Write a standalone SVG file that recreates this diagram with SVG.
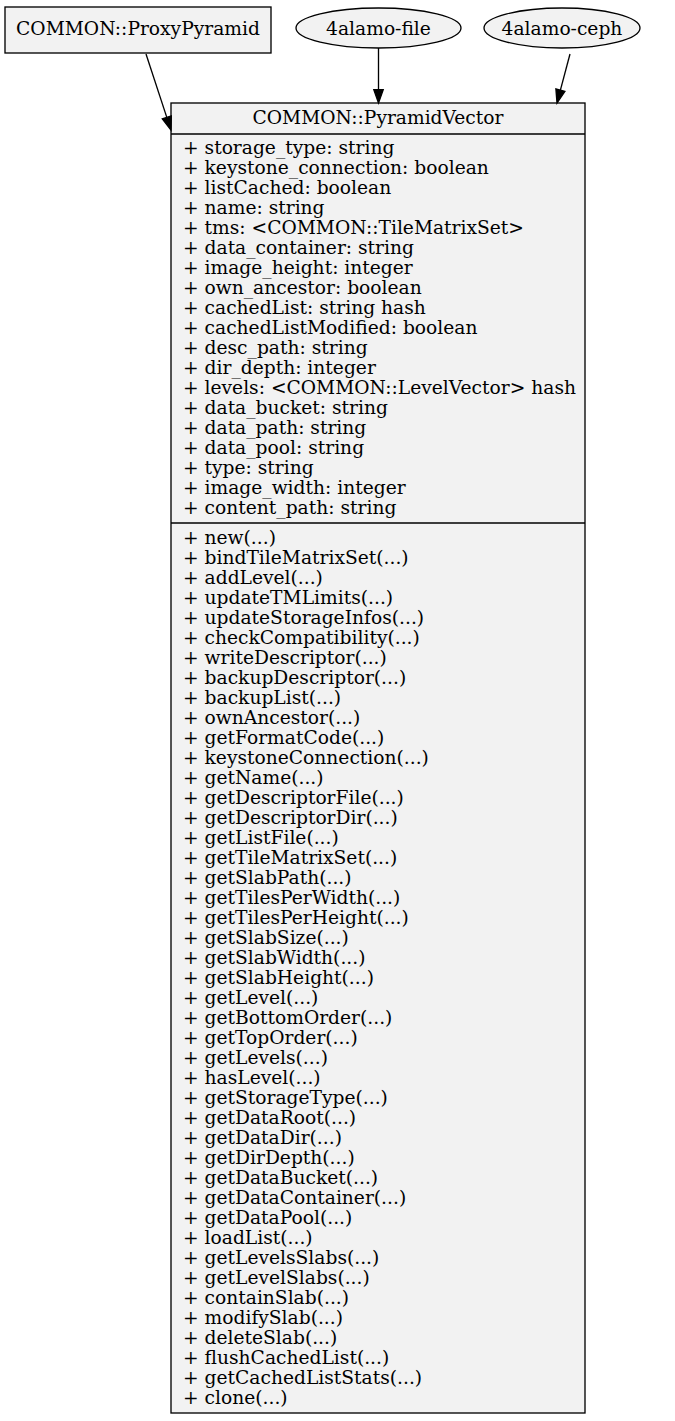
<svg xmlns="http://www.w3.org/2000/svg" width="675" height="1421" viewBox="0 0 675 1421">
<style>
text{font-family:"DejaVu Serif",serif;font-size:18.67px;fill:#000}
.n{fill:#f2f2f2;stroke:#000;stroke-width:1.33}
.c{text-anchor:middle}
.e{stroke:#000;stroke-width:1.33;fill:none}
.h{fill:#000;stroke:#000;stroke-width:1.33}
</style>
<rect width="675" height="1421" fill="#fff"/>
<g id="proxy">
<rect class="n" x="5" y="7" width="266" height="46"/>
<text class="c" x="138" y="35">COMMON::ProxyPyramid</text>
</g>
<g id="file">
<ellipse class="n" cx="378.5" cy="28" rx="82.5" ry="20"/>
<text class="c" x="378.5" y="35">4alamo-file</text>
</g>
<g id="ceph">
<ellipse class="n" cx="562" cy="28" rx="78" ry="20"/>
<text class="c" x="562" y="35">4alamo-ceph</text>
</g>
<g id="pyramidvector">
<rect class="n" x="171" y="103" width="414" height="1310"/>
<line class="e" x1="171" y1="134" x2="585" y2="134"/>
<line class="e" x1="171" y1="523" x2="585" y2="523"/>
<text class="c" x="378" y="124">COMMON::PyramidVector</text>
<g>
<text x="183" y="154">+ storage_type: string</text>
<text x="183" y="174">+ keystone_connection: boolean</text>
<text x="183" y="194">+ listCached: boolean</text>
<text x="183" y="214">+ name: string</text>
<text x="183" y="234">+ tms: &lt;COMMON::TileMatrixSet&gt;</text>
<text x="183" y="254">+ data_container: string</text>
<text x="183" y="274">+ image_height: integer</text>
<text x="183" y="294">+ own_ancestor: boolean</text>
<text x="183" y="314">+ cachedList: string hash</text>
<text x="183" y="334">+ cachedListModified: boolean</text>
<text x="183" y="354">+ desc_path: string</text>
<text x="183" y="374">+ dir_depth: integer</text>
<text x="183" y="394">+ levels: &lt;COMMON::LevelVector&gt; hash</text>
<text x="183" y="414">+ data_bucket: string</text>
<text x="183" y="434">+ data_path: string</text>
<text x="183" y="454">+ data_pool: string</text>
<text x="183" y="474">+ type: string</text>
<text x="183" y="494">+ image_width: integer</text>
<text x="183" y="514">+ content_path: string</text>
</g>
<g>
<text x="183" y="544">+ new(...)</text>
<text x="183" y="564">+ bindTileMatrixSet(...)</text>
<text x="183" y="584">+ addLevel(...)</text>
<text x="183" y="604">+ updateTMLimits(...)</text>
<text x="183" y="624">+ updateStorageInfos(...)</text>
<text x="183" y="644">+ checkCompatibility(...)</text>
<text x="183" y="664">+ writeDescriptor(...)</text>
<text x="183" y="684">+ backupDescriptor(...)</text>
<text x="183" y="704">+ backupList(...)</text>
<text x="183" y="724">+ ownAncestor(...)</text>
<text x="183" y="744">+ getFormatCode(...)</text>
<text x="183" y="764">+ keystoneConnection(...)</text>
<text x="183" y="784">+ getName(...)</text>
<text x="183" y="804">+ getDescriptorFile(...)</text>
<text x="183" y="824">+ getDescriptorDir(...)</text>
<text x="183" y="844">+ getListFile(...)</text>
<text x="183" y="864">+ getTileMatrixSet(...)</text>
<text x="183" y="884">+ getSlabPath(...)</text>
<text x="183" y="904">+ getTilesPerWidth(...)</text>
<text x="183" y="924">+ getTilesPerHeight(...)</text>
<text x="183" y="944">+ getSlabSize(...)</text>
<text x="183" y="964">+ getSlabWidth(...)</text>
<text x="183" y="984">+ getSlabHeight(...)</text>
<text x="183" y="1004">+ getLevel(...)</text>
<text x="183" y="1024">+ getBottomOrder(...)</text>
<text x="183" y="1044">+ getTopOrder(...)</text>
<text x="183" y="1064">+ getLevels(...)</text>
<text x="183" y="1084">+ hasLevel(...)</text>
<text x="183" y="1104">+ getStorageType(...)</text>
<text x="183" y="1124">+ getDataRoot(...)</text>
<text x="183" y="1144">+ getDataDir(...)</text>
<text x="183" y="1164">+ getDirDepth(...)</text>
<text x="183" y="1184">+ getDataBucket(...)</text>
<text x="183" y="1204">+ getDataContainer(...)</text>
<text x="183" y="1224">+ getDataPool(...)</text>
<text x="183" y="1244">+ loadList(...)</text>
<text x="183" y="1264">+ getLevelsSlabs(...)</text>
<text x="183" y="1284">+ getLevelSlabs(...)</text>
<text x="183" y="1304">+ containSlab(...)</text>
<text x="183" y="1324">+ modifySlab(...)</text>
<text x="183" y="1344">+ deleteSlab(...)</text>
<text x="183" y="1364">+ flushCachedList(...)</text>
<text x="183" y="1384">+ getCachedListStats(...)</text>
<text x="183" y="1404">+ clone(...)</text>
</g>
</g>
<g id="edges">
<line class="e" x1="146" y1="54" x2="166.8" y2="117.4"/>
<polygon class="h" points="171.3,115.9 171,130 162.3,118.9"/>
<line class="e" x1="378.5" y1="48" x2="378.5" y2="89.7"/>
<polygon class="h" points="383.2,89.7 378.5,103 373.8,89.7"/>
<line class="e" x1="570" y1="54" x2="560.4" y2="90.1"/>
<polygon class="h" points="564.9,91.3 557,103 555.9,88.9"/>
</g>
</svg>
